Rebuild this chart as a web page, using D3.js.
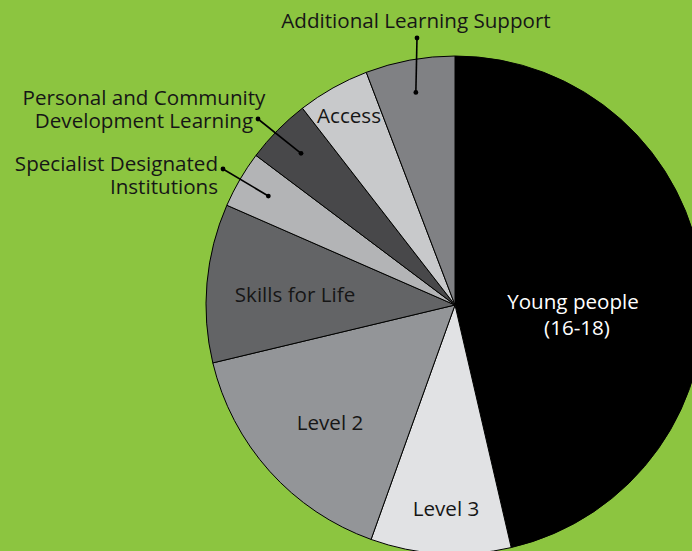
<!DOCTYPE html>
<html>
<head>
<meta charset="utf-8">
<script src="https://cdn.jsdelivr.net/npm/d3@7/dist/d3.min.js"></script>
<style>
  html, body { margin: 0; padding: 0; background: #8cc540; }
  svg { display: block; }
  text { font-family: "Open Sans", "Noto Sans", sans-serif; }
</style>
</head>
<body>
<svg id="chart" width="692" height="551"></svg>
<script>
// ---- data ----
const categories = [
  "Young people (16-18)",
  "Level 3",
  "Level 2",
  "Skills for Life",
  "Specialist Designated Institutions",
  "Personal and Community Development Learning",
  "Access",
  "Additional Learning Support"
];
const values = [46.4, 9.1, 15.8, 10.3, 3.7, 4.25, 4.7, 5.8];
const colors = ["#000000", "#e1e2e4", "#939598", "#636466", "#b3b4b6", "#48484a", "#c8c9cb", "#808184"];

// label lines (text) per category
const labelLines = [
  ["Young people", "(16-18)"],
  ["Level 3"],
  ["Level 2"],
  ["Skills for Life"],
  ["Specialist Designated", "Institutions"],
  ["Personal and Community", "Development Learning"],
  ["Access"],
  ["Additional Learning Support"]
];

// ---- layout ----
const width = 692, height = 551;
const cx = 455, cy = 305, R = 249;
const fontSize = 20.6;

const svg = d3.select("#chart");
svg.append("rect").attr("width", width).attr("height", height).attr("fill", "#8cc540");

const g = svg.append("g").attr("transform", `translate(${cx},${cy})`);

const data = categories.map((c, i) => ({ name: c, value: values[i], color: colors[i], lines: labelLines[i] }));
const pie = d3.pie().sort(null).value(d => d.value);
const arcs = pie(data);
const arc = d3.arc().innerRadius(0).outerRadius(R);

g.selectAll("path.slice")
  .data(arcs)
  .enter().append("path")
  .attr("class", "slice")
  .attr("d", arc)
  .attr("fill", d => d.data.color)
  .attr("stroke", "#000")
  .attr("stroke-width", 1);

function polar(angle, r) {
  return [Math.sin(angle) * r, -Math.cos(angle) * r];
}
const mid = a => (a.startAngle + a.endAngle) / 2;

// inside label placement (offsets from pie centre; first baseline), line height
const insideLabels = [
  { i: 0, x: 118, y: 4, lh: 26, dx2: 4, color: "#ffffff" },
  { i: 1, x: -9, y: 211, lh: 26, dx2: 0, color: "#161616" },
  { i: 2, x: -125, y: 125, lh: 26, dx2: 0, color: "#161616" },
  { i: 3, x: -160, y: -3, lh: 26, dx2: 0, color: "#161616" },
  { i: 6, x: -106, y: -182, lh: 26, dx2: 0, color: "#161616" }
];
insideLabels.forEach(L => {
  const a = arcs[L.i];
  const t = g.append("text")
    .attr("text-anchor", "middle")
    .attr("font-size", fontSize)
    .attr("fill", L.color);
  a.data.lines.forEach((ln, k) => {
    t.append("tspan")
      .attr("x", L.x + (k > 0 ? L.dx2 : 0))
      .attr("y", L.y + k * L.lh)
      .text(ln);
  });
});

// outside labels with leader lines
const outside = [
  { i: 7, anchor: "middle", tx: 416 - cx, ty: 28 - cy, lx: 417 - cx, ly: 38 - cy },
  { i: 5, anchor: "middle", tx: 144 - cx, ty: 105 - cy, lx: 258 - cx, ly: 119 - cy },
  { i: 4, anchor: "end", tx: 218 - cx, ty: 171 - cy, lx: 223 - cx, ly: 169 - cy }
];
const lineH = 22.5;
outside.forEach(L => {
  const a = arcs[L.i];
  const [px, py] = polar(mid(a), R * 0.868);
  g.append("line")
    .attr("x1", L.lx).attr("y1", L.ly).attr("x2", px).attr("y2", py)
    .attr("stroke", "#000").attr("stroke-width", 1.6);
  g.append("circle").attr("cx", L.lx).attr("cy", L.ly).attr("r", 2.4).attr("fill", "#000");
  g.append("circle").attr("cx", px).attr("cy", py).attr("r", 2.4).attr("fill", "#000");
  const t = g.append("text")
    .attr("text-anchor", L.anchor)
    .attr("font-size", fontSize)
    .attr("fill", "#161616");
  a.data.lines.forEach((ln, k) => {
    t.append("tspan").attr("x", L.tx).attr("y", L.ty + k * lineH).text(ln);
  });
});
</script>
</body>
</html>
